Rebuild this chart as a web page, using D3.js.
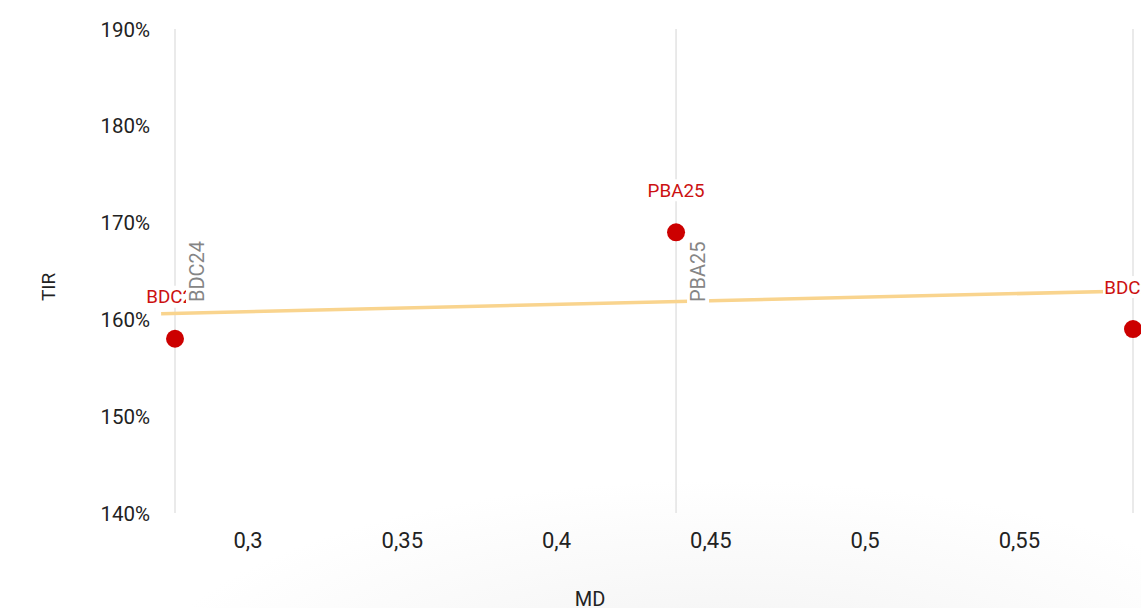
<!DOCTYPE html>
<html><head><meta charset="utf-8">
<script src="https://cdn.jsdelivr.net/npm/d3@7"></script>
<style>
html,body{margin:0;padding:0;background:#fff;overflow:hidden;}
svg{display:block;}
</style></head>
<body>
<svg id="chart" width="1141" height="608"></svg>
<script>
// ---- data ----
const names = ["BDC24", "PBA25", "BDC25"];
const mdValues = [0.2765, 0.4389, 0.587];
const tirValues = [1.58, 1.69, 1.59];
const trendX = [0.272, 0.5915];
const trendY = [1.6059, 1.6298];
const xTicks = [0.3, 0.35, 0.4, 0.45, 0.5, 0.55];
const yTicks = [1.4, 1.5, 1.6, 1.7, 1.8, 1.9];
const xTitle = "MD";
const yTitle = "TIR";

const svg = d3.select("#chart");
const W = 1141, H = 608;
const m = {left: 175, right: 8, top: 29, bottom: 95};
const FONT = "Roboto, 'Liberation Sans', Arial, sans-serif";

// subtle background shading
const defs = svg.append("defs");
const rg = defs.append("radialGradient").attr("id","bg");
rg.append("stop").attr("offset","0").attr("stop-color","#f1f1f1");
rg.append("stop").attr("offset","0.5").attr("stop-color","#f8f8f8");
rg.append("stop").attr("offset","1").attr("stop-color","#ffffff");
svg.append("rect").attr("width",W).attr("height",H).attr("fill","#fff");
svg.append("ellipse").attr("cx",720).attr("cy",690).attr("rx",580).attr("ry",210).attr("fill","url(#bg)");

const x = d3.scaleLinear().domain([d3.min(mdValues), d3.max(mdValues)]).range([m.left, 1133]);
const y = d3.scaleLinear().domain([1.4, 1.9]).range([513, 29]);

const fmtX = v => String(v).replace(".", ",");
const fmtY = v => Math.round(v * 100) + "%";

// vertical lines at data points
svg.append("g").selectAll("line").data(mdValues).join("line")
  .attr("x1", d => x(d)).attr("x2", d => x(d))
  .attr("y1", y(1.9)).attr("y2", y(1.4))
  .attr("stroke", "#e3e3e3").attr("stroke-width", 1.5);

// y axis
const yAxis = svg.append("g").attr("transform", "translate(150,0)")
  .call(d3.axisLeft(y).tickValues(yTicks).tickFormat(fmtY).tickSize(0).tickPadding(0));
yAxis.select(".domain").remove();
yAxis.selectAll("text").attr("font-family", FONT)
  .attr("font-size", 20.5).attr("fill", "#222").attr("dy", "0.35em");

// x axis
const xAxis = svg.append("g").attr("transform", "translate(0,540)")
  .call(d3.axisBottom(x).tickValues(xTicks).tickFormat(fmtX).tickSize(0).tickPadding(0));
xAxis.select(".domain").remove();
xAxis.selectAll("text").attr("font-family", FONT)
  .attr("font-size", 22).attr("fill", "#222").attr("dy", "0.35em");

// trend line
svg.append("line")
  .attr("x1", x(trendX[0])).attr("y1", y(trendY[0]))
  .attr("x2", x(trendX[1])).attr("y2", y(trendY[1]))
  .attr("stroke", "#f9d48e").attr("stroke-width", 3.5);

// points
svg.append("g").selectAll("circle").data(mdValues).join("circle")
  .attr("cx", d => x(d)).attr("cy", (d, i) => y(tirValues[i])).attr("r", 9)
  .attr("fill", "#cc0000");

// red data labels with white backgrounds
const lbl = svg.append("g").selectAll("g").data(names).join("g")
  .attr("transform", (d, i) => `translate(${x(mdValues[i])},${y(tirValues[i]) - 42})`);
lbl.append("rect").attr("x", -30).attr("y", -11).attr("width", 60).attr("height", 22).attr("fill", "#fff");
lbl.append("text").text(d => d)
  .attr("text-anchor", "middle").attr("dy", "0.35em")
  .attr("font-family", FONT)
  .attr("font-size", 18.8).attr("fill", "#cc1111");

// gray rotated annotation labels with white backgrounds
const ann = svg.append("g").selectAll("g").data(names).join("g")
  .attr("transform", (d, i) => `translate(${x(mdValues[i]) + 22},304) rotate(-90)`);
ann.append("rect").attr("x", 0).attr("y", -11).attr("width", 68).attr("height", 22).attr("fill", "#fff");
ann.append("text").text(d => d)
  .attr("x", 2).attr("dy", "0.35em")
  .attr("font-family", FONT)
  .attr("font-size", 20).attr("fill", "#858585");

// axis titles
svg.append("text").text(yTitle)
  .attr("transform", "translate(48,287) rotate(-90)")
  .attr("text-anchor", "middle").attr("dy", "0.35em")
  .attr("font-family", FONT)
  .attr("font-size", 19).attr("fill", "#222");
svg.append("text").text(xTitle)
  .attr("x", 590).attr("y", 599)
  .attr("text-anchor", "middle").attr("dy", "0.35em")
  .attr("font-family", FONT)
  .attr("font-size", 20).attr("fill", "#222");
</script>
</body></html>
